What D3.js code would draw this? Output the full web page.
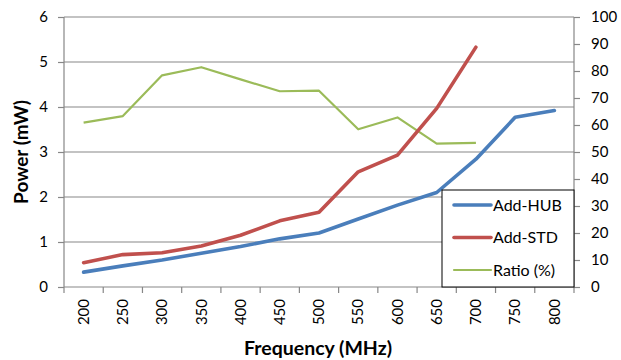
<!DOCTYPE html>
<html><head><meta charset="utf-8">
<script src="https://cdn.jsdelivr.net/npm/d3@7"></script>
<style>body{margin:0;background:#fff}svg{display:block}text{font-family:Lato,"Open Sans",sans-serif}</style>
</head><body><svg id="c" width="621" height="360"></svg>
<script>
const categories = ["200","250","300","350","400","450","500","550","600","650","700","750","800"];
const addHub = [0.33,0.47,0.60,0.75,0.90,1.07,1.20,1.51,1.82,2.10,2.84,3.77,3.92];
const addStd = [0.54,0.72,0.76,0.91,1.15,1.47,1.66,2.56,2.93,3.97,5.33];
const ratio = [60.9,63.3,78.4,81.4,76.9,72.5,72.7,58.4,62.8,53.1,53.4];
const leftTicks = [0,1,2,3,4,5,6];
const rightTicks = [0,10,20,30,40,50,60,70,80,90,100];

const svg = d3.select("#c");
const L=64, R=574, T=17, B=287;
const x = d3.scaleBand().domain(categories).range([L,R]);
const yL = d3.scaleLinear().domain([0,6]).range([B,T]);
const yR = d3.scaleLinear().domain([0,100]).range([B,T]);
const grid="#878787";

svg.append("g").selectAll("line").data(leftTicks.slice(1)).join("line")
  .attr("x1",L).attr("x2",R).attr("y1",d=>yL(d)).attr("y2",d=>yL(d))
  .attr("stroke",grid).attr("stroke-width",1.2);

const gl = svg.append("g").attr("transform",`translate(${L},0)`)
  .call(d3.axisLeft(yL).tickValues(leftTicks).tickSize(6).tickPadding(10).tickFormat(d3.format("d")));
const gr = svg.append("g").attr("transform",`translate(${R},0)`)
  .call(d3.axisRight(yR).tickValues(rightTicks).tickSize(6).tickPadding(11));
const gb = svg.append("g").attr("transform",`translate(0,${B})`)
  .call(d3.axisBottom(x).tickSize(0).tickPadding(12));
gb.selectAll(".tick text").attr("transform","rotate(-90)").attr("text-anchor","end")
  .attr("x",-12).attr("y",0).attr("dy","0.35em");
const bounds = categories.map(c=>x(c)).concat([R]);
svg.append("g").selectAll("line").data(bounds).join("line")
  .attr("x1",d=>d).attr("x2",d=>d).attr("y1",B).attr("y2",B+6).attr("stroke",grid).attr("stroke-width",1.2);

[gl,gr,gb].forEach(g=>{
  g.selectAll(".domain,.tick line").attr("stroke",grid).attr("stroke-width",1.2);
  g.selectAll("text").attr("font-size",15).attr("fill","#000").attr("font-family","Lato,'Open Sans',sans-serif");
});
gl.select(".domain").attr("d",`M0,${T}V${B}`);
gr.select(".domain").attr("d",`M0,${T}V${B}`);
gb.select(".domain").attr("d",`M${L},0H${R}`);

const cx = c=>x(c)+x.bandwidth()/2;
const lineL = d3.line().x((d,i)=>cx(categories[i])).y(d=>yL(d));
const lineR = d3.line().x((d,i)=>cx(categories[i])).y(d=>yR(d));

svg.append("path").datum(ratio).attr("d",lineR).attr("fill","none").attr("stroke","#9bbb59").attr("stroke-width",2.2).attr("stroke-linejoin","round");
svg.append("path").datum(addStd).attr("d",lineL).attr("fill","none").attr("stroke","#c0504d").attr("stroke-width",3.6).attr("stroke-linejoin","round").attr("stroke-linecap","round");
svg.append("path").datum(addHub).attr("d",lineL).attr("fill","none").attr("stroke","#4a7ebb").attr("stroke-width",3.6).attr("stroke-linejoin","round").attr("stroke-linecap","round");

const lg = svg.append("g");
lg.append("rect").attr("x",442).attr("y",190).attr("width",132).attr("height",97).attr("fill","#fff").attr("stroke","#000").attr("stroke-width",1);
const items=[["Add-HUB","#4a7ebb",3.6],["Add-STD","#c0504d",3.6],["Ratio (%)","#9bbb59",2.2]];
items.forEach((it,i)=>{
  const yy = 205 + i*32.5;
  lg.append("line").attr("x1",454).attr("x2",491).attr("y1",yy).attr("y2",yy).attr("stroke",it[1]).attr("stroke-width",it[2]).attr("stroke-linecap","round");
  lg.append("text").attr("x",493).attr("y",yy).attr("dy","0.36em").attr("font-size",16).text(it[0]);
});

svg.append("text").attr("transform",`translate(28,152) rotate(-90)`).attr("text-anchor","middle")
  .attr("font-size",19).attr("font-weight","bold").text("Power (mW)");
svg.append("text").attr("x",318).attr("y",355).attr("text-anchor","middle")
  .attr("font-size",19.5).attr("font-weight","bold").text("Frequency (MHz)");
</script></body></html>
